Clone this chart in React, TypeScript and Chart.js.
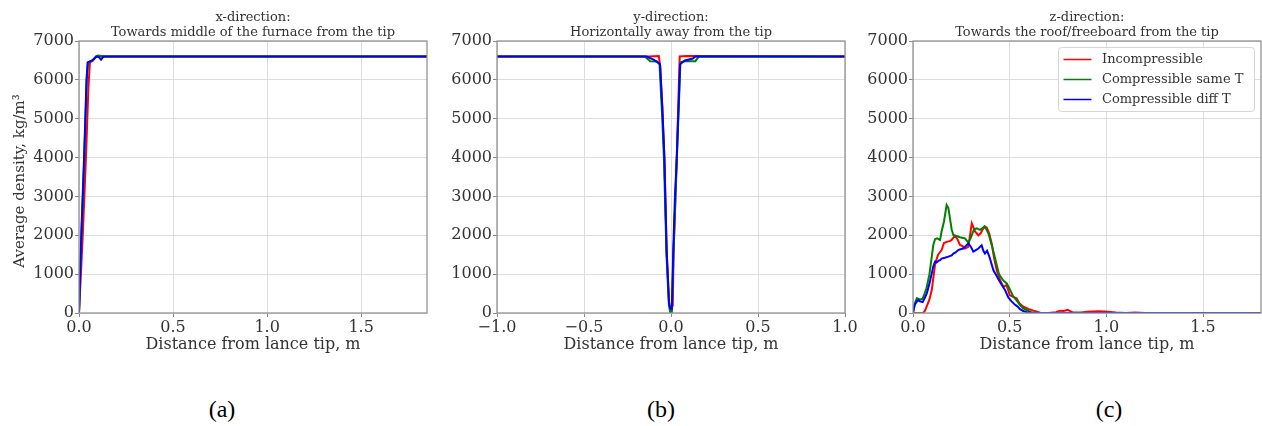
import React, { useEffect, useRef } from "react";
import { Chart, registerables } from "chart.js";

Chart.register(...registerables);

// ---------- data ----------
const SERIES_NAMES = ["Incompressible", "Compressible same T", "Compressible diff T"];
const SERIES_COLORS = ["#ff0000", "#008000", "#0000ff"];

const Y_TICKS = [0, 1000, 2000, 3000, 4000, 5000, 6000, 7000];
const A_X_TICKS = [0, 0.5, 1.0, 1.5];
const B_X_TICKS = [-1.0, -0.5, 0.0, 0.5, 1.0];
const C_X_TICKS = [0, 0.5, 1.0, 1.5];

// (a) x-direction
const A_RED_X = [0, 0.02, 0.037, 0.05, 0.058, 0.075, 0.09, 0.11, 1.85];
const A_RED_Y = [0, 2000, 4000, 5800, 6450, 6500, 6600, 6600, 6600];
const A_GREEN_X = [0, 0.013, 0.028, 0.041, 0.048, 0.072, 0.09, 0.1, 0.12, 0.13, 1.85];
const A_GREEN_Y = [0, 2000, 4000, 6000, 6450, 6500, 6600, 6625, 6615, 6600, 6600];
const A_BLUE_X = [0, 0.012, 0.027, 0.04, 0.046, 0.07, 0.094, 0.105, 0.117, 0.13, 1.85];
const A_BLUE_Y = [0, 2000, 4000, 6000, 6450, 6500, 6600, 6590, 6520, 6600, 6600];

// (b) y-direction
const B_RED_X = [-1, -0.13, -0.07, -0.062, -0.05, -0.038, -0.025, -0.01, 0, 0.01, 0.015, 0.033, 0.05, 0.09, 1];
const B_RED_Y = [6600, 6600, 6615, 6350, 5300, 4000, 1600, 200, 50, 200, 1600, 4000, 6600, 6615, 6600];
const B_GREEN_X = [-1, -0.15, -0.12, -0.08, -0.066, -0.05, -0.04, -0.026, -0.012, -0.005, 0, 0.005, 0.014, 0.034, 0.054, 0.08, 0.14, 0.16, 1];
const B_GREEN_Y = [6600, 6600, 6480, 6470, 6400, 5000, 3900, 1500, 200, 20, 0, 20, 1500, 4000, 6450, 6480, 6480, 6600, 6600];
const B_BLUE_X = [-1, -0.14, -0.1, -0.076, -0.063, -0.05, -0.038, -0.025, -0.012, -0.005, 0, 0.005, 0.013, 0.022, 0.033, 0.045, 0.052, 0.08, 0.126, 0.14, 1];
const B_BLUE_Y = [6600, 6600, 6520, 6450, 6400, 5300, 4000, 1600, 300, 120, 100, 150, 1600, 2900, 4000, 5500, 6400, 6500, 6550, 6600, 6600];

// (c) z-direction
const C_RED_X = [0, 0.05, 0.06, 0.07, 0.085, 0.097, 0.105, 0.115, 0.13, 0.148, 0.16, 0.174, 0.19, 0.2, 0.217, 0.23, 0.243, 0.256, 0.269, 0.286, 0.295, 0.304, 0.313, 0.321, 0.338, 0.35, 0.36, 0.372, 0.381, 0.394, 0.407, 0.42, 0.433, 0.45, 0.467, 0.476, 0.484, 0.492, 0.5, 0.515, 0.536, 0.55, 0.571, 0.6, 0.623, 0.645, 0.66, 0.7, 0.74, 0.76, 0.78, 0.8, 0.815, 0.83, 0.87, 0.9, 0.93, 0.96, 0.99, 1.02, 1.05, 1.1, 1.15, 1.2, 1.8];
const C_RED_Y = [0, 0, 40, 160, 350, 590, 900, 1280, 1500, 1620, 1800, 1830, 1850, 1880, 1990, 1900, 1750, 1720, 1660, 1700, 2000, 2310, 2200, 2100, 2000, 2050, 2150, 2220, 2200, 2050, 1790, 1400, 1100, 850, 680, 700, 720, 600, 460, 420, 380, 250, 160, 100, 60, 30, 0, 0, 20, 60, 50, 80, 40, 10, 10, 30, 40, 45, 40, 25, 10, 0, 15, 0, 0];
const C_GREEN_X = [0, 0.01, 0.02, 0.028, 0.04, 0.05, 0.06, 0.07, 0.085, 0.097, 0.105, 0.114, 0.125, 0.14, 0.148, 0.16, 0.174, 0.183, 0.191, 0.2, 0.209, 0.225, 0.243, 0.26, 0.269, 0.286, 0.3, 0.315, 0.33, 0.347, 0.358, 0.37, 0.38, 0.39, 0.41, 0.433, 0.445, 0.459, 0.47, 0.485, 0.5, 0.519, 0.535, 0.554, 0.57, 0.588, 0.61, 0.64, 1.8];
const C_GREEN_Y = [0, 250, 380, 360, 350, 370, 500, 640, 1000, 1450, 1750, 1900, 1920, 1880, 2100, 2350, 2780, 2700, 2440, 2150, 2000, 1980, 1950, 1930, 1920, 1810, 1950, 2150, 2180, 2140, 2180, 2230, 2150, 2050, 1700, 1235, 1000, 890, 820, 760, 620, 420, 330, 205, 120, 77, 20, 0, 0];
const C_BLUE_X = [0, 0.008, 0.019, 0.028, 0.036, 0.05, 0.06, 0.071, 0.085, 0.097, 0.105, 0.114, 0.122, 0.131, 0.14, 0.148, 0.165, 0.183, 0.2, 0.209, 0.22, 0.234, 0.245, 0.26, 0.272, 0.286, 0.3, 0.312, 0.325, 0.338, 0.355, 0.364, 0.372, 0.383, 0.395, 0.416, 0.433, 0.45, 0.462, 0.476, 0.493, 0.51, 0.528, 0.54, 0.554, 0.57, 0.588, 0.62, 1.8];
const C_BLUE_Y = [0, 200, 290, 335, 300, 280, 380, 500, 750, 1020, 1200, 1320, 1300, 1340, 1360, 1400, 1420, 1450, 1480, 1530, 1560, 1620, 1640, 1660, 1720, 1790, 1700, 1580, 1620, 1660, 1740, 1600, 1530, 1600, 1450, 1100, 950, 800, 700, 590, 400, 300, 210, 170, 100, 50, 20, 0, 0];

// ---------- layout constants ----------
const CANVAS_H = 360;
const AREA_TOP = 41;
const AREA_BOTTOM = 313;
const SERIF = "'DejaVu Serif', serif";
const TEXT_COLOR = "#333333";

function toPoints(xs: number[], ys: number[]) {
  return xs.map((x, i) => ({ x, y: ys[i] }));
}

type PanelProps = {
  left: number;
  width: number;
  areaLeft: number;
  areaRight: number;
  xMin: number;
  xMax: number;
  xTicks: number[];
  title1: string;
  title2: string;
  yTitle?: string;
  legend?: boolean;
  series: { x: number[]; y: number[] }[];
};

function fmtTick(v: number) {
  const s = Math.abs(v).toFixed(1);
  return v < 0 ? "\u2212" + s : s;
}

function Panel(props: PanelProps) {
  const ref = useRef<HTMLCanvasElement | null>(null);
  useEffect(() => {
    const canvas = ref.current;
    if (!canvas) return;
    const p = props;
    const decor = {
      id: "decor",
      afterDraw(chart: any) {
        const ctx = chart.ctx as CanvasRenderingContext2D;
        const a = chart.chartArea;
        ctx.save();
        // frame
        ctx.strokeStyle = "#929292";
        ctx.lineWidth = 1.3;
        ctx.strokeRect(a.left, a.top, a.right - a.left, a.bottom - a.top);
        // titles
        ctx.fillStyle = TEXT_COLOR;
        ctx.textAlign = "center";
        ctx.textBaseline = "middle";
        ctx.font = `13px ${SERIF}`;
        const cx = (a.left + a.right) / 2;
        ctx.fillText(p.title1, cx, 18);
        ctx.fillText(p.title2, cx, 32.5);
        ctx.font = `16px ${SERIF}`;
        ctx.fillText("Distance from lance tip, m", cx, 345);
        if (p.yTitle) {
          ctx.font = `15px ${SERIF}`;
          ctx.save();
          ctx.translate(20, 181);
          ctx.rotate(-Math.PI / 2);
          ctx.fillText(p.yTitle, 0, 0);
          ctx.restore();
        }
        if (p.legend) {
          const bx = p.width - (1262 - 1058.5);
          const by = 47.5;
          const bw = 196;
          const bh = 64;
          ctx.fillStyle = "rgba(255,255,255,0.85)";
          ctx.strokeStyle = "#d5d5d5";
          ctx.lineWidth = 1;
          ctx.beginPath();
          (ctx as any).roundRect(bx, by, bw, bh, 3);
          ctx.fill();
          ctx.stroke();
          ctx.font = `13px ${SERIF}`;
          ctx.textAlign = "left";
          SERIES_NAMES.forEach((name, i) => {
            const ry = 59.5 + i * 20;
            ctx.strokeStyle = SERIES_COLORS[i];
            ctx.lineWidth = 1.5;
            ctx.beginPath();
            ctx.moveTo(bx + 5, ry);
            ctx.lineTo(bx + 33, ry);
            ctx.stroke();
            ctx.fillStyle = TEXT_COLOR;
            ctx.fillText(name, bx + 43.5, ry);
          });
        }
        ctx.restore();
      },
    };
    const tickFont = { family: SERIF, size: 16 };
    const chart = new Chart(canvas, {
      type: "line",
      data: {
        datasets: p.series.map((s, i) => ({
          label: SERIES_NAMES[i],
          data: toPoints(s.x, s.y),
          borderColor: SERIES_COLORS[i],
          backgroundColor: SERIES_COLORS[i],
          borderWidth: 2,
          pointRadius: 0,
          tension: 0,
          fill: false,
          order: 3 - i,
        })),
      },
      options: {
        animation: false,
        responsive: false,
        maintainAspectRatio: false,
        layout: { padding: { top: AREA_TOP, left: 0, right: p.width - p.areaRight, bottom: 0 } },
        plugins: {
          legend: { display: false },
          tooltip: { enabled: false },
          title: { display: false },
        },
        scales: {
          x: {
            type: "linear",
            min: p.xMin,
            max: p.xMax,
            afterBuildTicks: (s: any) => {
              s.ticks = p.xTicks.map((v) => ({ value: v }));
            },
            afterFit: (s: any) => {
              s.height = CANVAS_H - AREA_BOTTOM;
            },
            ticks: {
              autoSkip: false,
              maxRotation: 0,
              padding: 1,
              color: TEXT_COLOR,
              font: tickFont,
              callback: (v: any) => fmtTick(Number(v)),
            },
            grid: { color: "#dddddd", lineWidth: 1, tickColor: "#888888", tickLength: 4 },
            border: { display: false },
          },
          y: {
            type: "linear",
            min: 0,
            max: 7000,
            afterBuildTicks: (s: any) => {
              s.ticks = Y_TICKS.map((v) => ({ value: v }));
            },
            afterFit: (s: any) => {
              s.width = p.areaLeft;
            },
            ticks: {
              autoSkip: false,
              padding: 1,
              color: TEXT_COLOR,
              font: tickFont,
              callback: (v: any) => String(v),
            },
            grid: { color: "#dddddd", lineWidth: 1, tickColor: "#888888", tickLength: 4 },
            border: { display: false },
          },
        },
      },
      plugins: [decor],
    } as any);
    return () => chart.destroy();
  }, []);
  return (
    <canvas
      ref={ref}
      width={props.width}
      height={CANVAS_H}
      style={{ position: "absolute", left: props.left, top: 0, width: props.width, height: CANVAS_H }}
    />
  );
}

const captionStyle = (cx: number): React.CSSProperties => ({
  position: "absolute",
  left: cx,
  top: 394,
  transform: "translateX(-50%)",
  fontFamily: "'Liberation Serif', serif",
  fontSize: 24,
  lineHeight: "30px",
  color: "#000",
  whiteSpace: "nowrap",
});

export default function App() {
  useEffect(() => {
    document.body.style.margin = "0";
  }, []);
  return (
    <div style={{ position: "relative", width: 1262, height: 426, background: "#fff", overflow: "hidden" }}>
      <Panel
        left={0}
        width={440}
        areaLeft={79}
        areaRight={427}
        xMin={0}
        xMax={1.85}
        xTicks={A_X_TICKS}
        title1="x-direction:"
        title2="Towards middle of the furnace from the tip"
        yTitle="Average density, kg/m³"
        series={[
          { x: A_RED_X, y: A_RED_Y },
          { x: A_GREEN_X, y: A_GREEN_Y },
          { x: A_BLUE_X, y: A_BLUE_Y },
        ]}
      />
      <Panel
        left={440}
        width={422}
        areaLeft={57}
        areaRight={405}
        xMin={-1}
        xMax={1}
        xTicks={B_X_TICKS}
        title1="y-direction:"
        title2="Horizontally away from the tip"
        series={[
          { x: B_RED_X, y: B_RED_Y },
          { x: B_GREEN_X, y: B_GREEN_Y },
          { x: B_BLUE_X, y: B_BLUE_Y },
        ]}
      />
      <Panel
        left={862}
        width={400}
        areaLeft={51}
        areaRight={399}
        xMin={0}
        xMax={1.8}
        xTicks={C_X_TICKS}
        title1="z-direction:"
        title2="Towards the roof/freeboard from the tip"
        legend
        series={[
          { x: C_RED_X, y: C_RED_Y },
          { x: C_GREEN_X, y: C_GREEN_Y },
          { x: C_BLUE_X, y: C_BLUE_Y },
        ]}
      />
      <div style={captionStyle(222)}>(a)</div>
      <div style={captionStyle(661)}>(b)</div>
      <div style={captionStyle(1109)}>(c)</div>
    </div>
  );
}
